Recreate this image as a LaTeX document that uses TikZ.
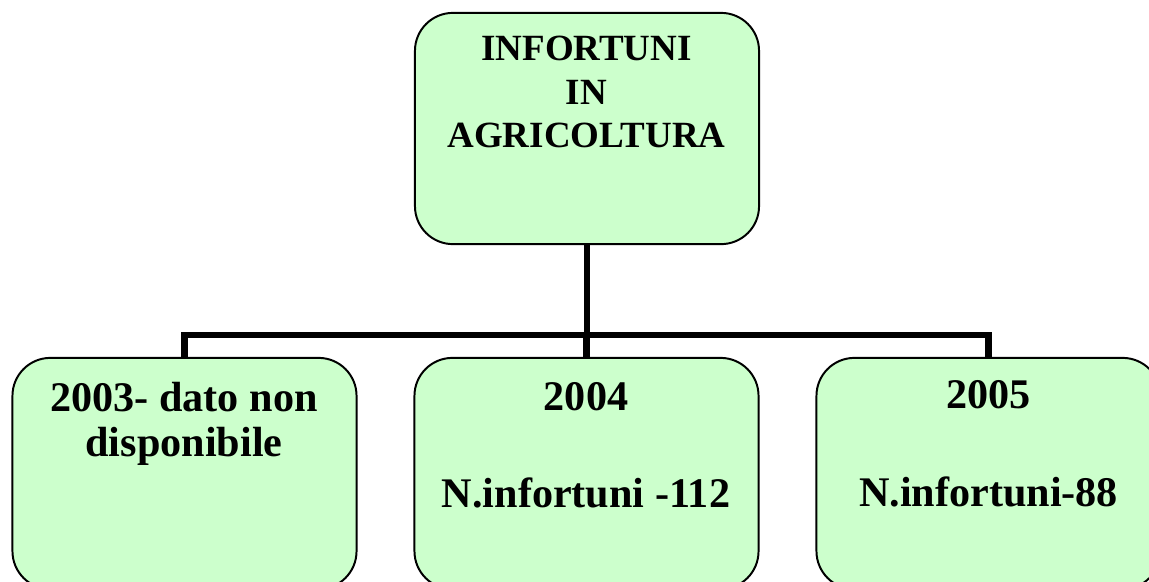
\documentclass[tikz,border=0pt]{standalone}
\usepackage{fontspec}
\setmainfont{Liberation Serif}
\usepackage{tikz}
\usetikzlibrary{positioning}

\definecolor{boxgreen}{HTML}{CCFFCC}

\tikzset{
	box/.style = {draw=black, line width=1.4pt, fill=boxgreen, rounded corners=0.95cm,
		minimum width=8.6cm, minimum height=5.78cm, inner sep=0pt},
	link/.style = {line width=4.4pt},
	toplabel/.style = {anchor=north, align=center, inner sep=0pt,
		font=\bfseries\fontsize{26.3}{30.8}\selectfont},
	yearlabel/.style = {anchor=north, align=center, inner sep=0pt,
		font=\bfseries\fontsize{30}{34.7}\selectfont}
}

\begin{document}
\begin{tikzpicture}[x=0.025cm, y=-0.025cm]
	\useasboundingbox (0,0) rectangle (1149,581);
	\clip (0,0) rectangle (1149,581);
	%\draw [help lines, step=50] (0,0) grid (1149,581);

	% boxes
	\node [box] (infortuni) at (587,128.5) {};
	\node [box] (y2003) at (184.5,473.5) {};
	\node [box] (y2004) at (586.5,473.5) {};
	\node [box] (y2005) at (988.5,473.5) {};

	% tree lines
	\coordinate (bus) at (586.5,335.3);
	\draw [link] (infortuni.south) -- (infortuni.south |- bus);
	\draw [link] (y2003.north) -- (y2003.north |- bus) -- (y2005.north |- bus) -- (y2005.north);
	\draw [link] (y2004.north) -- (y2004.north |- bus);

	% texts
	\node [toplabel] (titolo) at (586.5,36.2) {INFORTUNI\\IN\\AGRICOLTURA};
	\node [yearlabel] (t2003) at (184,381.8) {2003- dato non\\[-2.7pt]disponibile};
	\node [yearlabel] (t2004) at (586,382) {2004\\[34.7pt]N.infortuni -112};
	\node [yearlabel] (t2005) at (988.5,380.4) {2005\\[34.7pt]N.infortuni-88};
\end{tikzpicture}
\end{document}
